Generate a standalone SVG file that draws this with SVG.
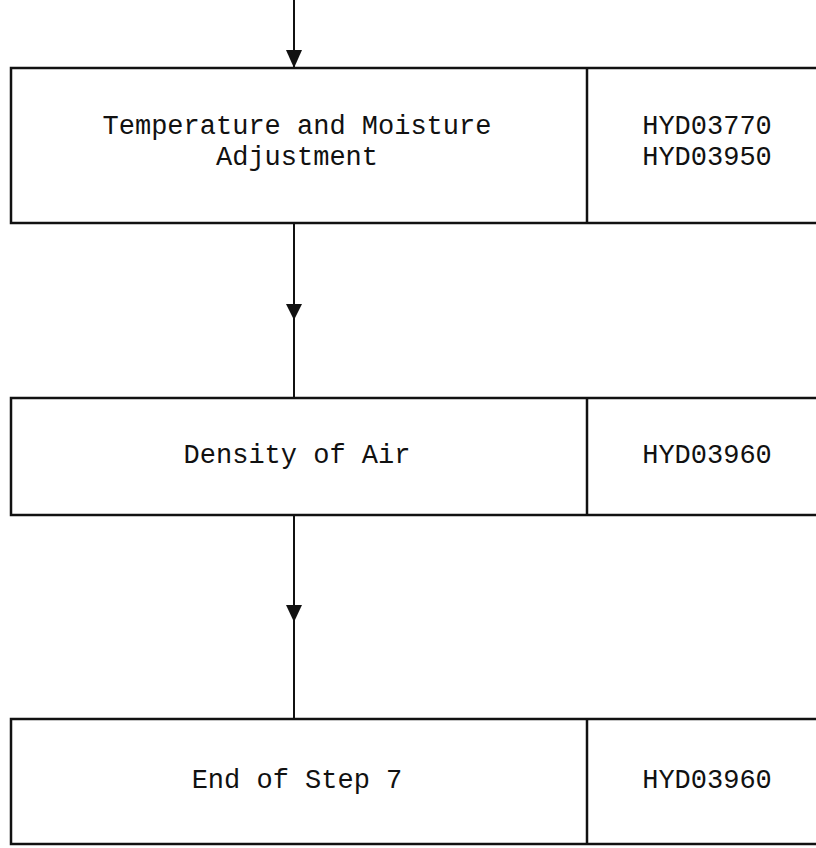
<svg xmlns="http://www.w3.org/2000/svg" width="816" height="848" viewBox="0 0 816 848">
<style>
.box{fill:none;stroke:#111;stroke-width:2.5}
.div{stroke:#111;stroke-width:2.5}
.conn{stroke:#111;stroke-width:2;fill:none}
.t{font-family:"Liberation Mono","DejaVu Sans Mono",monospace;font-size:27px;fill:#111;text-anchor:middle}
.head{fill:#111}
</style>
<rect width="816" height="848" fill="#fff"/>
<g id="connectors">
<line class="conn" x1="294" y1="0" x2="294" y2="68"/>
<polygon class="head" points="286,50 302,50 294,68"/>
<line class="conn" x1="294" y1="223" x2="294" y2="398"/>
<polygon class="head" points="286,304 302,304 294,320"/>
<line class="conn" x1="294" y1="515" x2="294" y2="719"/>
<polygon class="head" points="286,605 302,605 294,622"/>
</g>
<g id="node1">
<rect class="box" x="11" y="68" width="830" height="155"/>
<line class="div" x1="587" y1="68" x2="587" y2="223"/>
<text class="t" x="297" y="134">Temperature and Moisture</text>
<text class="t" x="297" y="165">Adjustment</text>
<text class="t" x="707" y="134">HYD03770</text>
<text class="t" x="707" y="165">HYD03950</text>
</g>
<g id="node2">
<rect class="box" x="11" y="398" width="830" height="117"/>
<line class="div" x1="587" y1="398" x2="587" y2="515"/>
<text class="t" x="297" y="463">Density of Air</text>
<text class="t" x="707" y="463">HYD03960</text>
</g>
<g id="node3">
<rect class="box" x="11" y="719" width="830" height="125"/>
<line class="div" x1="587" y1="719" x2="587" y2="844"/>
<text class="t" x="297" y="788">End of Step 7</text>
<text class="t" x="707" y="788">HYD03960</text>
</g>
</svg>
